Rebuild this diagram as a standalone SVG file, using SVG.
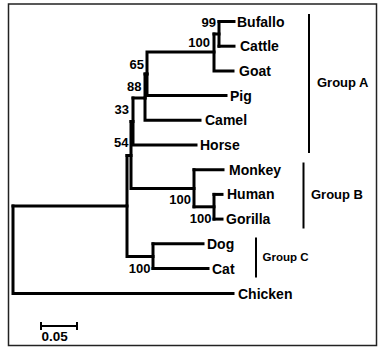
<svg xmlns="http://www.w3.org/2000/svg" width="379" height="347" viewBox="0 0 379 347">
<style>
.br{fill:none;stroke:#000;stroke-width:3;stroke-linecap:square;stroke-linejoin:miter}
.bar{stroke:#000;stroke-width:2}
.tx{font-family:"Liberation Sans",Arial,sans-serif;font-weight:bold;font-size:14px;fill:#000}
.bs{font-family:"Liberation Sans",Arial,sans-serif;font-weight:bold;font-size:13px;fill:#000;text-anchor:end}
.gp{font-family:"Liberation Sans",Arial,sans-serif;font-weight:bold;font-size:13px;fill:#000}
</style>
<rect x="8.5" y="4" width="368" height="341.5" fill="#fff" stroke="#222" stroke-width="1.5"/>
<g id="connectors">
<path class="br" d="M13,206 V293.5 H233"/>
<path class="br" d="M13,206 H127 V155.5"/>
<path class="br" d="M127,206 V256.5 H153"/>
<path class="br" d="M153,243.8 V268.5"/>
<path class="br" d="M153,243.8 H203"/>
<path class="br" d="M153,268.5 H208"/>
<path class="br" d="M127,155.5 H131 V121.5"/>
<path class="br" d="M131,155.5 V188.5 H194"/>
<path class="br" d="M194,169.7 V206.8"/>
<path class="br" d="M194,169.7 H223"/>
<path class="br" d="M194,206.8 H214"/>
<path class="br" d="M214,194.4 V219.1"/>
<path class="br" d="M214,194.4 H222"/>
<path class="br" d="M214,219.1 H222"/>
<path class="br" d="M131,121.5 H133 V98"/>
<path class="br" d="M133,121.5 V145 H196"/>
<path class="br" d="M133,98 H145"/>
<path class="br" d="M145,98 V120.3 H200"/>
<path class="br" d="M145,98 V74"/>
<path class="br" d="M145,74 H147"/>
<path class="br" d="M147,74 V52 H214"/>
<path class="br" d="M147,74 V95.6 H226"/>
<path class="br" d="M214,34 V70.9 H233"/>
<path class="br" d="M214,34 H219"/>
<path class="br" d="M219,21.5 V46.2"/>
<path class="br" d="M219,21.5 H234"/>
<path class="br" d="M219,46.2 H234"/>
</g>
<g id="bootstrap">
<text class="bs" x="216" y="26.8">99</text>
<text class="bs" x="210" y="46.8">100</text>
<text class="bs" x="144" y="68.5">65</text>
<text class="bs" x="141.5" y="90.8">88</text>
<text class="bs" x="129" y="114.2">33</text>
<text class="bs" x="128.5" y="147.3">54</text>
<text class="bs" x="191" y="204.2">100</text>
<text class="bs" x="211.5" y="222.5">100</text>
<text class="bs" x="150.5" y="272.8">100</text>
</g>
<g id="bufallo"><text class="tx" x="237" y="26.5">Bufallo</text></g>
<g id="cattle"><text class="tx" x="240" y="51.2">Cattle</text></g>
<g id="goat"><text class="tx" x="239" y="75.9">Goat</text></g>
<g id="pig"><text class="tx" x="230" y="100.6">Pig</text></g>
<g id="camel"><text class="tx" x="205" y="125.3">Camel</text></g>
<g id="horse"><text class="tx" x="200" y="150">Horse</text></g>
<g id="monkey"><text class="tx" x="229" y="174.7">Monkey</text></g>
<g id="human"><text class="tx" x="227" y="199.4">Human</text></g>
<g id="gorilla"><text class="tx" x="226" y="224.1">Gorilla</text></g>
<g id="dog"><text class="tx" x="207" y="248.8">Dog</text></g>
<g id="cat"><text class="tx" x="212" y="273.5">Cat</text></g>
<g id="chicken"><text class="tx" x="238" y="298.5">Chicken</text></g>
<g id="groupA">
<line class="bar" x1="309" y1="14" x2="309" y2="153"/>
<text class="gp" x="317" y="87.4">Group A</text>
</g>
<g id="groupB">
<line class="bar" x1="303.5" y1="162.5" x2="303.5" y2="228.5"/>
<text class="gp" x="311" y="199">Group B</text>
</g>
<g id="groupC">
<line class="bar" x1="256" y1="237.5" x2="256" y2="277.5"/>
<text class="gp" x="262.5" y="260.7" style="font-size:11.5px">Group C</text>
</g>
<g id="scalebar">
<path d="M41,326 H77 M41,322 V330 M77,322 V330" fill="none" stroke="#000" stroke-width="2"/>
<text class="bs" x="41.5" y="340.7" style="text-anchor:start;font-size:13.5px">0.05</text>
</g>
</svg>
